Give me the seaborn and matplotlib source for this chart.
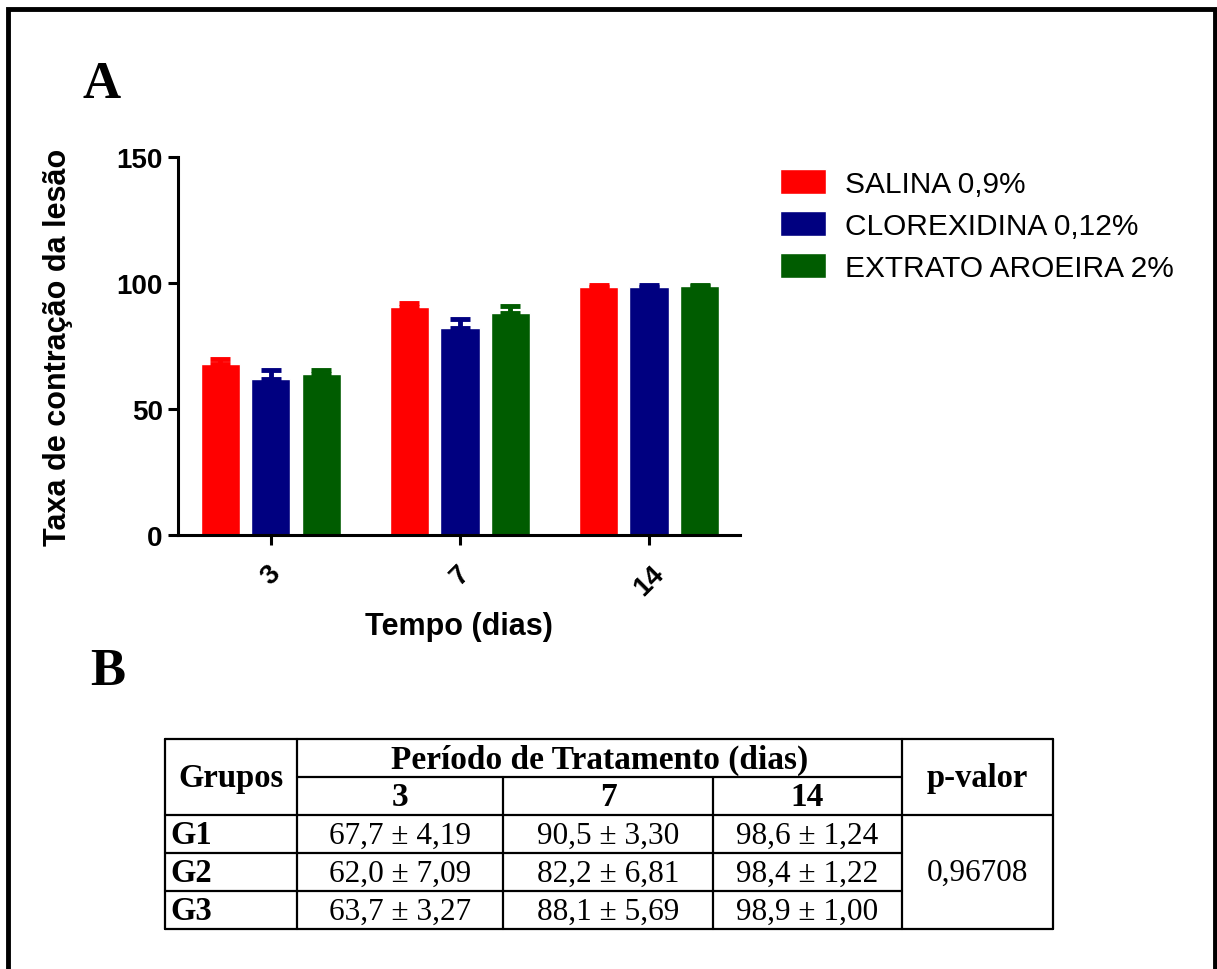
import matplotlib
matplotlib.use("Agg")
import matplotlib.pyplot as plt
from matplotlib.lines import Line2D
from matplotlib.patches import Rectangle
import seaborn as sns
import pandas as pd

# ---------------- data ----------------
tempos = ["3", "7", "14"]
grupos = ["SALINA 0,9%", "CLOREXIDINA 0,12%", "EXTRATO AROEIRA 2%"]
cores = ["#FF0000", "#000080", "#005C00"]
media_salina = [67.7, 90.5, 98.6]
media_clorex = [62.0, 82.2, 98.4]
media_aroeira = [63.7, 88.1, 98.9]
dp_salina = [4.19, 3.30, 1.24]
dp_clorex = [7.09, 6.81, 1.22]
dp_aroeira = [3.27, 5.69, 1.00]
# error bars drawn in panel A (upper only)
erro_salina = [2.10, 1.65, 0.62]
erro_clorex = [3.55, 3.41, 0.61]
erro_aroeira = [1.64, 2.85, 0.50]
y_ticks = [0, 50, 100, 150]
rotulos_tabela = ["G1", "G2", "G3"]
p_valor = "0,96708"

medias = [media_salina, media_clorex, media_aroeira]
dps = [dp_salina, dp_clorex, dp_aroeira]
erros = [erro_salina, erro_clorex, erro_aroeira]

rows = []
for g, m in zip(grupos, medias):
    for t, v in zip(tempos, m):
        rows.append({"Tempo": t, "Grupo": g, "Taxa": v})
df = pd.DataFrame(rows)

# ---------------- figure ----------------
sns.set_theme(style="ticks")
plt.rcParams["font.family"] = ["Liberation Sans", "DejaVu Sans"]
plt.rcParams["text.color"] = "black"
plt.rcParams["axes.labelcolor"] = "black"
plt.rcParams["xtick.color"] = "black"
plt.rcParams["ytick.color"] = "black"
W, H = 1217, 970
fig = plt.figure(figsize=(W / 100, H / 100), dpi=100)
fig.patch.set_facecolor("white")

def fx(px):
    return px / W

def fy(py):
    return 1 - py / H

ax = fig.add_axes([fx(178), fy(536), fx(740) - fx(178), fy(158) - fy(536)])
ax.set_facecolor("white")
sns.barplot(data=df, x="Tempo", y="Taxa", hue="Grupo", order=tempos,
            hue_order=grupos, palette=cores, errorbar=None, width=0.8,
            gap=0.22, saturation=1, ax=ax, legend=True)

for cont, err, c in zip(ax.containers, erros, cores):
    xs = [b.get_x() + b.get_width() / 2 for b in cont]
    ys = [b.get_height() for b in cont]
    ax.errorbar(xs, ys, yerr=[[0] * len(err), err], fmt="none", ecolor=c,
                elinewidth=3.5, capsize=7, capthick=3.5, zorder=1)

ax.set_ylim(0, 150)
ax.set_xlim(-0.49, 2.48)
ax.set_yticks(y_ticks)
ax.set_yticklabels([str(v) for v in y_ticks], fontsize=20, fontweight="bold")
ax.set_xticks(range(len(tempos)))
ax.set_xticklabels(tempos, fontsize=20, fontweight="bold", rotation=45,
                   ha="center", va="top")
ax.tick_params(axis="both", width=2.2, length=7, color="black", pad=4,
               labelcolor="black")
ax.tick_params(axis="x", pad=11)
for s in ["left", "bottom"]:
    ax.spines[s].set_linewidth(2.2)
    ax.spines[s].set_color("black")
for s in ["top", "right"]:
    ax.spines[s].set_visible(False)
ax.set_ylabel("Taxa de contração da lesão", fontsize=22, fontweight="bold",
              labelpad=31, color="black")
ax.set_xlabel("Tempo (dias)", fontsize=22, fontweight="bold", labelpad=8,
              color="black")

leg = ax.get_legend()
handles = leg.legend_handles
leg.remove()
fig.legend(handles, grupos, loc="upper left",
           bbox_to_anchor=(fx(780), fy(170)), frameon=False, fontsize=21.5,
           handlelength=1.55, handleheight=0.9, handletextpad=0.62,
           labelspacing=0.45, borderpad=0, borderaxespad=0)

# panel letters
serif = ["Liberation Serif", "DejaVu Serif"]
fig.text(fx(102), fy(85), "A", fontsize=38, fontweight="bold", family=serif,
         ha="center", va="center", color="black")
fig.text(fx(108), fy(672), "B", fontsize=38, fontweight="bold", family=serif,
         ha="center", va="center", color="black")

# outer border
fig.add_artist(Rectangle((fx(7.5), fy(990)), fx(1215) - fx(7.5),
                         fy(10) - fy(990), transform=fig.transFigure,
                         fill=False, edgecolor="black", linewidth=3.5))

# ---------------- table (panel B) ----------------
xL, xC1, xC2, xC3, xC4, xR = 165, 297, 503, 713, 902, 1053
yT, yH, yR0, yR1, yR2, yB = 740, 778, 816, 854, 892, 930
lw = 1.6

def hline(x0, x1, y):
    fig.add_artist(Line2D([fx(x0), fx(x1)], [fy(y), fy(y)], color="black",
                          lw=lw, transform=fig.transFigure))

def vline(x, y0, y1):
    fig.add_artist(Line2D([fx(x), fx(x)], [fy(y0), fy(y1)], color="black",
                          lw=lw, transform=fig.transFigure))

hline(xL, xR, yT)
hline(xC1, xC4, yH)
hline(xL, xR, yR0)
hline(xL, xC4, yR1)
hline(xL, xC4, yR2)
hline(xL, xR, yB)
vline(xL, yT, yB)
vline(xC1, yT, yB)
vline(xC2, yH, yB)
vline(xC3, yH, yB)
vline(xC4, yT, yB)
vline(xR, yT, yB)

def ttext(x, y, s, bold=False, ha="center", size=22.5):
    fig.text(fx(x), fy(y), s, fontsize=size, family=serif,
             fontweight="bold" if bold else "normal", ha=ha, va="center",
             color="black")

ttext((xL + xC1) / 2, (yT + yR0) / 2, "Grupos", bold=True, size=23.5)
ttext((xC1 + xC4) / 2, (yT + yH) / 2 + 1, "Período de Tratamento (dias)",
      bold=True, size=24)
colx = [(xC1 + xC2) / 2, (xC2 + xC3) / 2, (xC3 + xC4) / 2]
for cx, t in zip(colx, tempos):
    ttext(cx, (yH + yR0) / 2 + 1, t, bold=True, size=24)
ttext((xC4 + xR) / 2, (yT + yR0) / 2, "p-valor", bold=True, size=23.5)

rowy = [(yR0 + yR1) / 2, (yR1 + yR2) / 2, (yR2 + yB) / 2]
for ry, lab, m, s in zip(rowy, rotulos_tabela, medias, dps):
    ttext(xL + 5, ry + 1, lab, bold=True, ha="left", size=23.5)
    for cx, mv, sv in zip(colx, m, s):
        txt = f"{mv:.1f} ± {sv:.2f}".replace(".", ",")
        ttext(cx, ry + 1, txt)
ttext((xC4 + xR) / 2, (yR0 + yB) / 2, p_valor)

fig.savefig("out.png", dpi=100, facecolor="white")
